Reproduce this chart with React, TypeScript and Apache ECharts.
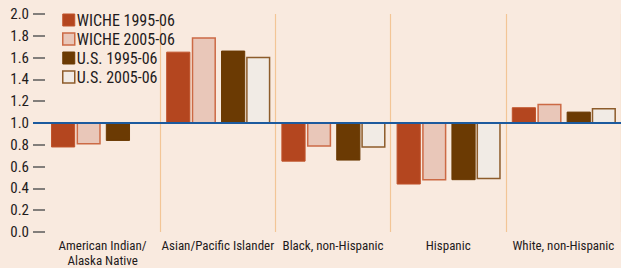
import React, { useEffect, useRef } from "react";
import * as echarts from "echarts";

const categories = [
  "American Indian/\nAlaska Native",
  "Asian/Pacific Islander",
  "Black, non-Hispanic",
  "Hispanic",
  "White, non-Hispanic",
];
const seriesNames = ["WICHE 1995-06", "WICHE 2005-06", "U.S. 1995-06", "U.S. 2005-06"];
const wiche9506 = [0.78, 1.65, 0.65, 0.44, 1.14];
const wiche0506 = [0.81, 1.78, 0.79, 0.48, 1.17];
const us9506 = [0.84, 1.66, 0.66, 0.48, 1.1];
const us0506: (number | null)[] = [null, 1.6, 0.78, 0.49, 1.13];
const yMin = 0;
const yMax = 2;
const yStep = 0.2;
const baseline = 1.0;

const FONT = "'Roboto Condensed', 'DejaVu Sans Condensed', sans-serif";
const TEXT = "#1f1b1c";

const styles = [
  { fill: "#b4461f", stroke: "#c0532b", lineWidth: 1 },
  { fill: "#e9c7b9", stroke: "#cc6a45", lineWidth: 1.5 },
  { fill: "#6b3a03", stroke: "#6b3a03", lineWidth: 1 },
  { fill: "#f1ebe5", stroke: "#8d5c2b", lineWidth: 1.5 },
];
const offsets = [0.052, 0.274, 0.528, 0.746];
const barFrac = 0.21;

function makeSeries(idx: number, values: (number | null)[]) {
  const st = styles[idx];
  return {
    type: "custom",
    name: seriesNames[idx],
    itemStyle: { color: st.fill, borderColor: st.stroke, borderWidth: st.lineWidth },
    encode: { x: 0, y: 1 },
    data: values.map((v, i) => [i, v === null ? "-" : v]),
    z: 3,
    renderItem: (params: any, api: any) => {
      const i = api.value(0);
      const v = api.value(1);
      if (v === null || v === undefined || isNaN(v)) return null;
      const b = api.coord([i, baseline]);
      const t = api.coord([i, v]);
      const band = api.size([1, 0])[0];
      const x = b[0] - band / 2 + offsets[idx] * band;
      const y = Math.min(b[1], t[1]);
      const h = Math.abs(b[1] - t[1]);
      return {
        type: "rect",
        shape: { x: x + st.lineWidth / 2, y, width: barFrac * band - st.lineWidth, height: h },
        style: { fill: st.fill, stroke: st.stroke, lineWidth: st.lineWidth },
      };
    },
  };
}

export default function App() {
  const ref = useRef<HTMLDivElement>(null);
  useEffect(() => {
    document.body.style.margin = "0";
    const chart = echarts.init(ref.current!, null, { renderer: "svg" });
    chart.setOption({
      animation: false,
      backgroundColor: "#f9eadf",
      textStyle: { fontFamily: FONT, color: TEXT },
      grid: { left: 45, right: -3, top: 14, bottom: 35, containLabel: false },
      legend: {
        orient: "vertical",
        left: 62,
        top: 12,
        itemWidth: 12,
        itemHeight: 12,
        itemGap: 3,
        padding: 0,
        icon: "rect",
        textStyle: { fontFamily: FONT, fontSize: 16, lineHeight: 12, color: TEXT, padding: [0, 0, 0, -3] },
        data: seriesNames.map((n, i) => ({
          name: n,
          itemStyle: { color: styles[i].fill, borderColor: styles[i].stroke, borderWidth: styles[i].lineWidth },
        })),
      },
      xAxis: {
        type: "category",
        data: categories,
        axisLine: { show: false },
        axisTick: { show: false },
        axisLabel: {
          color: TEXT,
          fontFamily: FONT,
          fontSize: 13,
          lineHeight: 15,
          margin: 6,
          interval: 0,
        },
        splitLine: {
          show: true,
          interval: (index: number) => index > 0,
          lineStyle: { color: "#f3c596", width: 1.2 },
        },
      },
      yAxis: {
        type: "value",
        min: yMin,
        max: yMax,
        interval: yStep,
        axisLine: { show: false },
        axisTick: { show: true, length: 12, lineStyle: { color: "#5a5a5a", width: 1.5 } },
        splitLine: { show: false },
        axisLabel: {
          color: TEXT,
          fontFamily: FONT,
          fontSize: 15,
          margin: 16,
          formatter: (v: number) => v.toFixed(1),
        },
      },
      series: [
        makeSeries(0, wiche9506),
        makeSeries(1, wiche0506),
        makeSeries(2, us9506),
        makeSeries(3, us0506),
        {
          type: "custom",
          name: "baseline",
          data: [[0, baseline]],
          encode: { x: 0, y: 1 },
          z: 5,
          renderItem: (params: any, api: any) => {
            const cs = params.coordSys;
            const p = api.coord([0, api.value(1)]);
            return {
              type: "line",
              shape: { x1: cs.x - 12, y1: p[1], x2: cs.x + cs.width, y2: p[1] },
              style: { stroke: "#1c5a9e", lineWidth: 2 },
            };
          },
        },
      ],
    });
    return () => chart.dispose();
  }, []);
  return <div ref={ref} style={{ position: "absolute", left: 0, top: 0, width: 621, height: 268 }} />;
}
